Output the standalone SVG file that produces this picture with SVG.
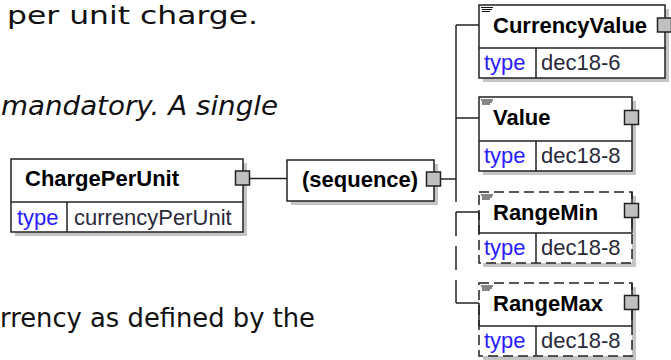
<svg xmlns="http://www.w3.org/2000/svg" width="671" height="360" viewBox="0 0 671 360">
<defs>
<style>
.doc{font-family:"DejaVu Sans","Liberation Sans",sans-serif;fill:#111;}
.box{fill:#fff;stroke:#222;stroke-width:1.5;}
.dbox{fill:#fff;stroke:#222;stroke-width:1.5;stroke-dasharray:10 5;}
.sh{fill:#c4c4c4;}
.ln{stroke:#222;stroke-width:1.5;fill:none;}
.port{fill:#c0c0c0;stroke:#222;stroke-width:1.5;}
.nm{font-family:"Liberation Sans",Arial,sans-serif;font-weight:bold;font-size:22px;fill:#000;}
.ty{font-family:"Liberation Sans",Arial,sans-serif;font-size:22px;fill:#2a1cff;}
.tv{font-family:"Liberation Sans",Arial,sans-serif;font-size:22px;fill:#2a2a3a;}
.ic{stroke:#111;stroke-width:1.2;fill:none;}
</style>
</defs>
<rect width="671" height="360" fill="#fff"/>
<g id="doc-text">
<text class="doc" x="7" y="24" font-size="25" textLength="251" lengthAdjust="spacingAndGlyphs">per unit charge.</text>
<text class="doc" x="1" y="115" font-size="27" font-style="italic" textLength="277" lengthAdjust="spacingAndGlyphs">mandatory. A single</text>
<text class="doc" x="0" y="327" font-size="26" textLength="315" lengthAdjust="spacingAndGlyphs">rrency as defined by the</text>
</g>
<g id="connectors">
<line class="ln" x1="250" y1="178.5" x2="287" y2="178.5"/>
<line class="ln" x1="441" y1="179" x2="456" y2="179"/>
<line class="ln" x1="456" y1="25" x2="456" y2="202"/>
<line class="ln" x1="456" y1="212" x2="456" y2="303" stroke-dasharray="24 10"/>
<line class="ln" x1="456" y1="25" x2="479" y2="25"/>
<line class="ln" x1="456" y1="118" x2="479" y2="118"/>
<line class="ln" x1="456" y1="212" x2="479" y2="212"/>
<line class="ln" x1="456" y1="303" x2="479" y2="303"/>
</g>
<g id="ChargePerUnit">
<rect class="sh" x="15" y="163" width="232" height="73"/>
<rect class="box" x="11" y="159" width="232" height="73"/>
<line class="ln" x1="11" y1="202" x2="243" y2="202"/>
<line class="ln" x1="67" y1="202" x2="67" y2="232"/>
<text class="nm" x="25" y="186">ChargePerUnit</text>
<text class="ty" x="17" y="225">type</text>
<text class="tv" x="74" y="225">currencyPerUnit</text>
<rect class="port" x="235.5" y="171" width="14" height="14"/>
</g>
<g id="sequence">
<rect class="sh" x="291" y="164" width="147" height="41"/>
<rect class="box" x="287" y="160" width="147" height="41"/>
<text class="nm" x="302" y="187">(sequence)</text>
<rect class="port" x="426.5" y="172" width="14" height="14"/>
</g>
<g id="CurrencyValue">
<rect class="sh" x="483" y="9" width="186" height="73"/>
<rect class="box" x="479" y="5" width="186" height="73"/>
<line class="ln" x1="479" y1="48" x2="665" y2="48"/>
<line class="ln" x1="536" y1="48" x2="536" y2="78"/>
<path class="ic" d="M481 7.5h12M482 9.5h10M482 11.5h8"/>
<text class="nm" x="493" y="33">CurrencyValue</text>
<text class="ty" x="484" y="70">type</text>
<text class="tv" x="541" y="70">dec18-6</text>
<rect class="port" x="657.5" y="18" width="14" height="14"/>
</g>
<g id="Value">
<rect class="sh" x="483" y="101" width="153" height="74"/>
<rect class="box" x="479" y="97" width="153" height="74"/>
<line class="ln" x1="479" y1="141" x2="632" y2="141"/>
<line class="ln" x1="536" y1="141" x2="536" y2="171"/>
<path class="ic" d="M481 100h12M482 102h10M482 104h8"/>
<text class="nm" x="493" y="125">Value</text>
<text class="ty" x="484" y="163">type</text>
<text class="tv" x="541" y="163">dec18-8</text>
<rect class="port" x="624.5" y="110.5" width="14" height="14"/>
</g>
<g id="RangeMin">
<rect class="sh" x="483" y="196" width="153" height="71"/>
<rect class="dbox" x="479" y="192" width="153" height="71"/>
<line class="ln" x1="479" y1="212" x2="479" y2="233"/>
<line class="ln" x1="479" y1="233" x2="632" y2="233"/>
<line class="ln" x1="632" y1="192" x2="632" y2="233"/>
<line class="ln" x1="536" y1="233" x2="536" y2="263"/>
<path class="ic" d="M481 195h12M482 197h10M482 199h8"/>
<text class="nm" x="493" y="220">RangeMin</text>
<text class="ty" x="484" y="255">type</text>
<text class="tv" x="541" y="255">dec18-8</text>
<rect class="port" x="624.5" y="203.5" width="14" height="14"/>
</g>
<g id="RangeMax">
<rect class="sh" x="483" y="287" width="153" height="73"/>
<rect class="dbox" x="479" y="283" width="153" height="73"/>
<line class="ln" x1="479" y1="303" x2="479" y2="326"/>
<line class="ln" x1="479" y1="326" x2="632" y2="326"/>
<line class="ln" x1="632" y1="283" x2="632" y2="326"/>
<line class="ln" x1="536" y1="326" x2="536" y2="356"/>
<path class="ic" d="M481 286h12M482 288h10M482 290h8"/>
<text class="nm" x="493" y="311">RangeMax</text>
<text class="ty" x="484" y="348">type</text>
<text class="tv" x="541" y="348">dec18-8</text>
<rect class="port" x="624.5" y="295.5" width="14" height="14"/>
</g>
</svg>
